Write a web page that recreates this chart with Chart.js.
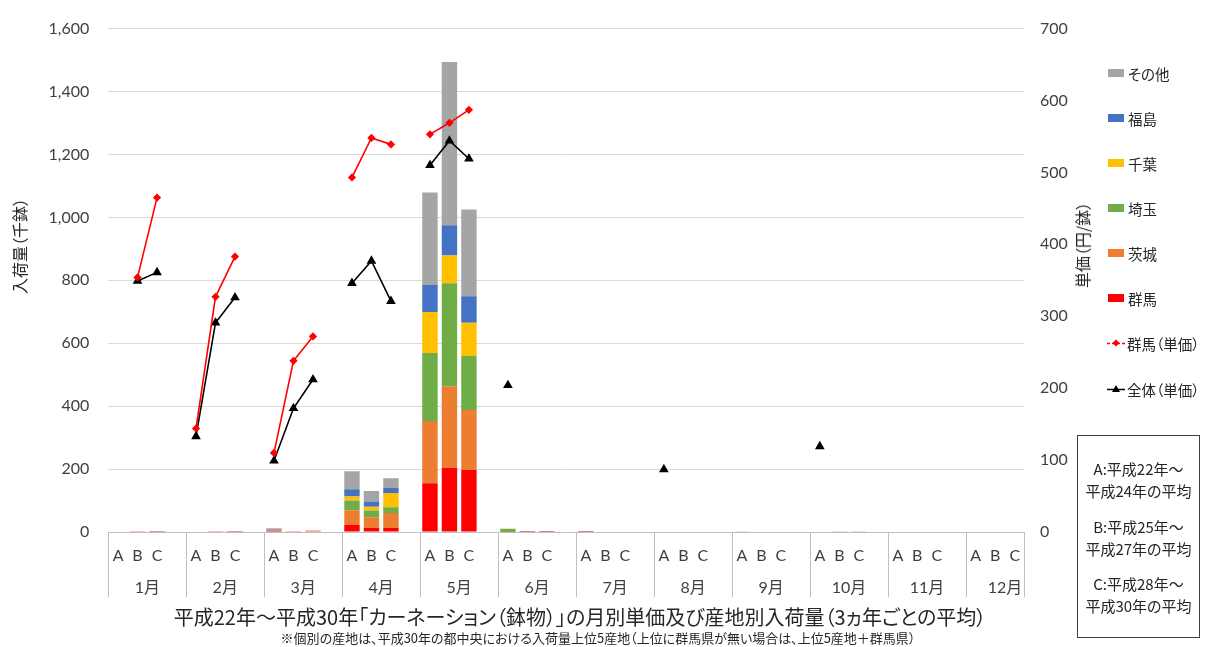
<!DOCTYPE html>
<html lang="ja">
<head>
<meta charset="utf-8">
<title>カーネーション（鉢物）の月別単価及び産地別入荷量</title>
<script src="https://cdn.jsdelivr.net/npm/chart.js@4.4.1/dist/chart.umd.min.js"></script>
<style>
  html, body { margin: 0; padding: 0; background: #fff; }
  #wrap {
    position: relative; width: 1207px; height: 647px; overflow: hidden;
    font-family: "Noto Sans CJK JP", sans-serif; color: #262626;
    font-feature-settings: "palt";
  }
  #chart { position: absolute; left: 0; top: 0; }
  .vtitle {
    position: absolute; white-space: nowrap; font-size: 16px; line-height: 18px;
    transform: translate(-50%, -50%) rotate(-90deg);
  }
  .legend-item {
    position: absolute; left: 1106px; height: 20px; display: flex; align-items: center;
    font-size: 14.5px; white-space: nowrap;
  }
  .swatch { display: inline-block; width: 16px; height: 8px; margin: 0 4px 0 2px; }
  .legend-item svg { margin-right: 1px; }
  #note {
    position: absolute; left: 1077px; top: 435px; width: 123px; height: 203px;
    box-sizing: border-box; border: 1px solid #404040; font-size: 15px;
  }
  #note div { position: absolute; left: 0; width: 100%; text-align: center; line-height: 18px; white-space: nowrap; }
  #title {
    position: absolute; left: 80px; width: 1000px; top: 605px; text-align: center;
    font-size: 20px; line-height: 24px; white-space: nowrap;
  }
  #subtitle {
    position: absolute; left: 98px; width: 1000px; top: 630px; text-align: center;
    font-size: 13px; line-height: 15px; white-space: nowrap;
  }
</style>
</head>
<body>
<div id="wrap">
  <canvas id="chart" width="1207" height="647"></canvas>

  <div class="vtitle" style="left:19px; top:246px;">入荷量（千鉢）</div>
  <div class="vtitle" style="left:1082px; top:245px;">単価（円/鉢）</div>

  <div id="legend"></div>

  <div id="note">
    <div style="top:24px;">A:平成22年～</div>
    <div style="top:46px;">平成24年の平均</div>
    <div style="top:82px;">B:平成25年～</div>
    <div style="top:104px;">平成27年の平均</div>
    <div style="top:139px;">C:平成28年～</div>
    <div style="top:161px;">平成30年の平均</div>
  </div>

  <div id="title">平成22年～平成30年「カーネーション（鉢物）」の月別単価及び産地別入荷量（3ヵ年ごとの平均）</div>
  <div id="subtitle">※個別の産地は、平成30年の都中央における入荷量上位5産地（上位に群馬県が無い場合は、上位5産地＋群馬県）</div>
</div>

<script>
// 月ラベル、期間ラベル
const months = ["1月", "2月", "3月", "4月", "5月", "6月", "7月", "8月", "9月", "10月", "11月", "12月"];
const periods = ["A", "B", "C"];

// 入荷量（千鉢） 各月 A,B,C の順
const gunma     = [0, 2, 1,   0, 2, 1,   4, 2, 2,   22, 13, 13,   155, 204, 197,   1, 1, 1,   1, 0, 0,   0, 0, 0,   0, 0, 0,   0, 0, 0,   0, 0, 0,   0, 0, 0];
const ibaraki   = [0, 0, 0,   0, 0, 0,   0, 0, 2,   47, 34, 47,   198, 259, 191,   0, 0, 0,   0, 0, 0,   0, 0, 0,   0, 0, 0,   0, 0, 0,   0, 0, 0,   0, 0, 0];
const saitama   = [0, 0, 0,   0, 0, 0,   0, 0, 0,   31, 21, 19,   216, 328, 171,   9, 0, 0,   0, 0, 0,   0, 0, 0,   0, 0, 0,   0, 1, 1,   0, 0, 0,   0, 0, 0];
const chiba     = [0, 0, 0,   0, 0, 0,   0, 0, 0,   13, 12, 45,   130, 88, 106,    0, 0, 0,   0, 0, 0,   0, 0, 0,   0, 0, 0,   0, 0, 0,   0, 0, 0,   0, 0, 0];
const fukushima = [0, 0, 0,   0, 0, 0,   0, 0, 0,   23, 17, 16,   86, 96, 84,      0, 0, 0,   0, 0, 0,   0, 0, 0,   0, 0, 0,   0, 0, 0,   0, 0, 0,   0, 0, 0];
const others    = [0, 0, 1,   0, 0, 1,   8, 0, 1,   57, 33, 31,   294, 519, 276,   0, 2, 2,   2, 0, 0,   0, 0, 0,   1, 0, 0,   0, 0, 0,   0, 0, 0,   0, 0, 0];

// 単価（円/鉢）
const gunmaPrice = [null, 354, 465,   144, 327, 383,   110, 238, 272,   493, 548, 539,   553, 569, 587,
                    null, null, null,  null, null, null,  null, null, null,  null, null, null,  null, null, null,  null, null, null,  null, null, null];
const allPrice   = [null, 349, 361,   133, 291, 326,   99, 172, 212,    346, 377, 321,   510, 544, 519,
                    204, null, null,   null, null, null,  87, null, null,   null, null, null,  119, null, null,  null, null, null,  null, null, null];

const leftTicks = { min: 0, max: 1600, step: 200 };
const rightTicks = { min: 0, max: 700, step: 100 };

// 月ごとに A,B,C と空きスロット（最終月は空きなし）
const slotLabels = [];
const monthRowLabels = [];
months.forEach((m, i) => {
  const last = i === months.length - 1;
  periods.forEach((p, j) => {
    slotLabels.push(p);
    // 月名は B のスロットに置き、半スロット右へずらす
    monthRowLabels.push(j === 1 ? m : "");
  });
  if (!last) {
    slotLabels.push("");
    monthRowLabels.push("");
  }
});

function toSlots(arr) {
  const out = [];
  for (let m = 0; m < months.length; m++) {
    out.push(arr[3 * m], arr[3 * m + 1], arr[3 * m + 2]);
    if (m < months.length - 1) out.push(null);
  }
  return out;
}

const barSeries = [
  { label: "群馬", data: gunma, color: "#FF0000" },
  { label: "茨城", data: ibaraki, color: "#ED7D31" },
  { label: "埼玉", data: saitama, color: "#70AD47" },
  { label: "千葉", data: chiba, color: "#FFC000" },
  { label: "福島", data: fukushima, color: "#4472C4" },
  { label: "その他", data: others, color: "#A5A5A5" }
];

const datasets = barSeries.map(s => ({
  type: "bar",
  label: s.label,
  data: toSlots(s.data),
  backgroundColor: s.color,
  xAxisID: "x",
  yAxisID: "y",
  stack: "qty",
  order: 1,
  barPercentage: 0.79,
  categoryPercentage: 1.0
}));

datasets.push({
  type: "line",
  label: "群馬（単価）",
  data: toSlots(gunmaPrice),
  borderColor: "#FF0000",
  backgroundColor: "#FF0000",
  borderWidth: 1.6,
  pointStyle: "rectRot",
  pointRadius: 3,
  xAxisID: "x",
  yAxisID: "y2",
  order: 0,
  spanGaps: false
});

datasets.push({
  type: "line",
  label: "全体（単価）",
  data: toSlots(allPrice),
  borderColor: "#000000",
  backgroundColor: "#000000",
  borderWidth: 1.6,
  pointStyle: "triangle",
  pointRadius: 4,
  xAxisID: "x",
  yAxisID: "y2",
  order: 0,
  spanGaps: false
});

const tickFont = { family: 'Lato, "Noto Sans CJK JP", sans-serif', size: 16 };
const tickColor = "#404040";
const sepColor = "#bfbfbf";

new Chart(document.getElementById("chart"), {
  type: "bar",
  data: { labels: slotLabels, datasets },
  options: {
    responsive: false,
    animation: false,
    devicePixelRatio: 1,
    layout: { padding: { top: 20, left: 0, right: 122.5, bottom: 43 } },
    plugins: {
      legend: { display: false },
      tooltip: { enabled: false },
      title: { display: false }
    },
    scales: {
      x: {
        type: "category",
        position: "bottom",
        stacked: true,
        offset: true,
        weight: 0,
        border: { display: true, color: sepColor, width: 1 },
        grid: {
          offset: true,
          drawOnChartArea: false,
          drawTicks: true,
          tickLength: 65,
          color: ctx => (ctx.index === undefined || ctx.index % 4 === 0) ? sepColor : "rgba(0,0,0,0)"
        },
        ticks: {
          autoSkip: false,
          maxRotation: 0,
          minRotation: 0,
          padding: -51,
          font: tickFont,
          color: tickColor
        },
        afterFit: s => { s.height = 40; }
      },
      x2: {
        type: "category",
        labels: monthRowLabels,
        position: "bottom",
        offset: true,
        weight: 1,
        border: { display: false },
        grid: { display: false, drawTicks: false, tickLength: 0 },
        ticks: {
          autoSkip: false,
          maxRotation: 0,
          minRotation: 0,
          padding: 6,
          labelOffset: 9.75,
          font: tickFont,
          color: tickColor
        },
        afterFit: s => { s.height = 32; }
      },
      y: {
        type: "linear",
        position: "left",
        stacked: true,
        min: leftTicks.min,
        max: leftTicks.max,
        border: { display: false },
        grid: { color: "#d9d9d9", lineWidth: 1, drawTicks: false },
        ticks: {
          stepSize: leftTicks.step,
          padding: 19,
          font: tickFont,
          color: tickColor,
          callback: v => v.toLocaleString("en-US")
        },
        afterFit: s => { s.width = 108.3; }
      },
      y2: {
        type: "linear",
        position: "right",
        min: rightTicks.min,
        max: rightTicks.max,
        border: { display: false },
        grid: { display: false, drawTicks: false },
        ticks: {
          stepSize: rightTicks.step,
          padding: 15.5,
          font: tickFont,
          color: tickColor
        },
        afterFit: s => { s.width = 60; }
      }
    }
  }
});

// 凡例（上から その他 → 全体（単価））
const legendItems = [
  { label: "その他", color: "#A5A5A5", y: 73 },
  { label: "福島", color: "#4472C4", y: 118 },
  { label: "千葉", color: "#FFC000", y: 163 },
  { label: "埼玉", color: "#70AD47", y: 208 },
  { label: "茨城", color: "#ED7D31", y: 253 },
  { label: "群馬", color: "#FF0000", y: 298 },
  { label: "群馬（単価）", color: "#FF0000", y: 343, marker: "diamond" },
  { label: "全体（単価）", color: "#000000", y: 389, marker: "triangle" }
];

const legendEl = document.getElementById("legend");
legendItems.forEach(item => {
  const div = document.createElement("div");
  div.className = "legend-item";
  div.style.top = (item.y - 10) + "px";
  let icon;
  if (!item.marker) {
    icon = `<span class="swatch" style="background:${item.color}"></span>`;
  } else {
    const shape = item.marker === "diamond"
      ? `<polygon points="10,1.5 13.5,5 10,8.5 6.5,5" fill="${item.color}"/>`
      : `<polygon points="10,1 14,8 6,8" fill="${item.color}"/>`;
    icon = `<svg width="20" height="10" viewBox="0 0 20 10"><line x1="1" y1="5.5" x2="19" y2="5.5" stroke="${item.color}" stroke-width="1.5" ${item.marker === "diamond" ? 'stroke-dasharray="3,2"' : ""}/>${shape}</svg>`;
  }
  div.innerHTML = icon + `<span>${item.label}</span>`;
  legendEl.appendChild(div);
});
</script>
</body>
</html>
